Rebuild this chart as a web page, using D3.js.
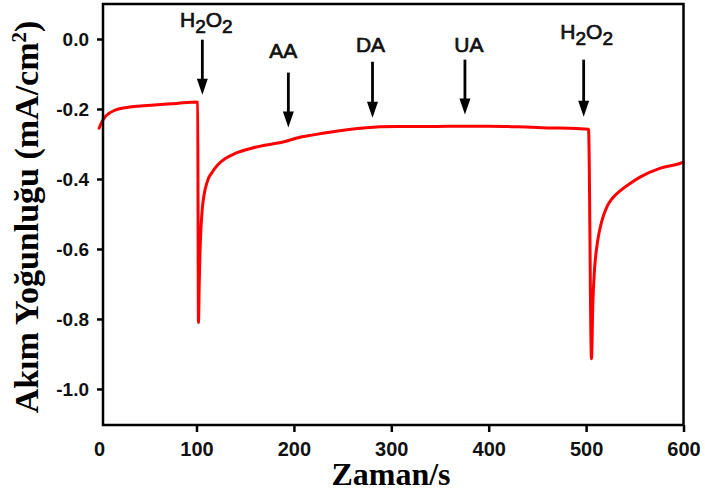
<!DOCTYPE html>
<html>
<head>
<meta charset="utf-8">
<script src="https://cdn.jsdelivr.net/npm/d3@7"></script>
<style>
  html, body { margin: 0; padding: 0; background: #fff; }
  svg { display: block; }
</style>
</head>
<body>
<script>
// Amperometric response: time (s) vs current density (mA/cm²)
const timeS = [0, 3, 6, 10, 15, 20, 30, 40, 60, 80, 100, 101.2,
  102.0, 102.8, 103.6, 104.6, 105.8, 107.2, 109, 112, 115.6, 119, 122.4, 130, 139.6,
  156.7, 173.5, 191, 203, 220, 240, 271, 306, 340, 375, 400, 430, 460, 490, 502.5,
  505.5, 507, 508.6, 510.7, 512.7, 514.8, 517.8, 521.6, 527, 535.2, 545.5, 555.8, 576.4, 597, 600];
const current = [-0.255, -0.236, -0.223, -0.213, -0.205, -0.200, -0.195, -0.192, -0.188, -0.184, -0.180, -0.181,
  -0.81, -0.70, -0.61, -0.54, -0.49, -0.455, -0.428, -0.400, -0.383, -0.369, -0.358, -0.341, -0.327,
  -0.312, -0.302, -0.293, -0.283, -0.274, -0.265, -0.254, -0.250, -0.250, -0.249, -0.249, -0.251, -0.254, -0.256, -0.258,
  -0.914, -0.75, -0.66, -0.60, -0.563, -0.535, -0.505, -0.478, -0.455, -0.433, -0.412, -0.394, -0.369, -0.355, -0.352];

const xTicks = [0, 100, 200, 300, 400, 500, 600];
const yTicks = [0.0, -0.2, -0.4, -0.6, -0.8, -1.0];

// Injection markers: label, time, arrow tail value, arrow tip value, label baseline value
const injLabels = ["H2O2", "AA", "DA", "UA", "H2O2"];
const injTime   = [106, 194.3, 280.7, 375.6, 497.5];
const injTail   = [-0.002, -0.096, -0.065, -0.059, -0.059];
const injTip    = [-0.159, -0.253, -0.225, -0.216, -0.222];
const injText   = [0.035, -0.054, -0.037, -0.037, 0.0];
const injShift  = [4, -5, -2, 4, 3];

const W = 705, H = 492;
const svg = d3.select("body").append("svg").attr("width", W).attr("height", H);

const x = d3.scaleLinear().domain([4, 600]).range([103, 683.5]);
const y = d3.scaleLinear().domain([-1.103, 0.1]).range([425, 4]);

const sans = "Arial, 'Liberation Sans', Helvetica, sans-serif";
const serif = "'Times New Roman', 'Liberation Serif', Times, serif";

// Axes
const yAxis = d3.axisLeft(y).tickValues(yTicks).tickSize(6).tickPadding(7)
  .tickFormat(d => d.toFixed(1));
const gy = svg.append("g").attr("transform", `translate(${x.range()[0]},0)`).call(yAxis);
gy.select(".domain").remove();
gy.selectAll(".tick line").attr("stroke", "#000").attr("stroke-width", 2.5);
gy.selectAll(".tick text").attr("font-family", sans).attr("font-weight", "bold")
  .attr("font-size", 19).attr("fill", "#111").attr("dx", -1);

const xAxis = d3.axisBottom(x).tickValues(xTicks).tickSize(7).tickPadding(10)
  .tickFormat(d3.format("d"));
const gx = svg.append("g").attr("transform", `translate(0,${y.range()[0]})`).call(xAxis);
gx.select(".domain").remove();
gx.selectAll(".tick line").attr("stroke", "#000").attr("stroke-width", 2.5)
  .attr("opacity", d => d === 0 ? 0 : 1);
gx.selectAll(".tick text").attr("font-family", sans).attr("font-weight", "bold")
  .attr("font-size", 20).attr("fill", "#111");

// Current trace
const line = d3.line().x((d, i) => x(timeS[i])).y(d => y(d)).curve(d3.curveMonotoneX);
svg.append("path").datum(current)
  .attr("d", line)
  .attr("fill", "none").attr("stroke", "#ff0000").attr("stroke-width", 3)
  .attr("stroke-linejoin", "round").attr("stroke-linecap", "round");

// Frame
svg.append("rect")
  .attr("x", x.range()[0]).attr("y", y.range()[1])
  .attr("width", x.range()[1] - x.range()[0])
  .attr("height", y.range()[0] - y.range()[1])
  .attr("fill", "none").attr("stroke", "#000").attr("stroke-width", 2.5);

// Injection arrows
const headLen = 16, headHalf = 5.5;
injLabels.forEach((lab, i) => {
  const ax = x(injTime[i]), y0 = y(injTail[i]), y1 = y(injTip[i]);
  svg.append("line").attr("x1", ax).attr("x2", ax).attr("y1", y0).attr("y2", y1 - headLen + 2)
    .attr("stroke", "#000").attr("stroke-width", 2.8);
  svg.append("path")
    .attr("d", `M${ax - headHalf},${y1 - headLen} L${ax + headHalf},${y1 - headLen} L${ax},${y1} Z`)
    .attr("fill", "#000");

  const t = svg.append("text")
    .attr("x", ax + injShift[i]).attr("y", y(injText[i]))
    .attr("text-anchor", "middle")
    .attr("font-family", sans).attr("font-size", 21).attr("fill", "#111")
    .attr("stroke", "#111").attr("stroke-width", 0.7);
  if (lab === "H2O2") {
    t.append("tspan").text("H");
    t.append("tspan").attr("dy", 6).attr("font-size", 19).text("2");
    t.append("tspan").attr("dy", -6).text("O");
    t.append("tspan").attr("dy", 6).attr("font-size", 19).text("2");
  } else {
    t.text(lab);
  }
});

// Axis titles
svg.append("text")
  .attr("x", 391).attr("y", 485)
  .attr("text-anchor", "middle")
  .attr("font-family", serif).attr("font-weight", "bold").attr("font-size", 32)
  .attr("fill", "#000")
  .text("Zaman/s");

const yt = svg.append("text")
  .attr("transform", "translate(38,217) rotate(-90)")
  .attr("text-anchor", "middle")
  .attr("font-family", serif).attr("font-weight", "bold").attr("font-size", 34)
  .attr("fill", "#000");
yt.append("tspan").text("Akım Yoğunluğu (mA/cm");
yt.append("tspan").attr("dy", -12).attr("font-size", 21).text("2");
yt.append("tspan").attr("dy", 12).text(")");
</script>
</body>
</html>
